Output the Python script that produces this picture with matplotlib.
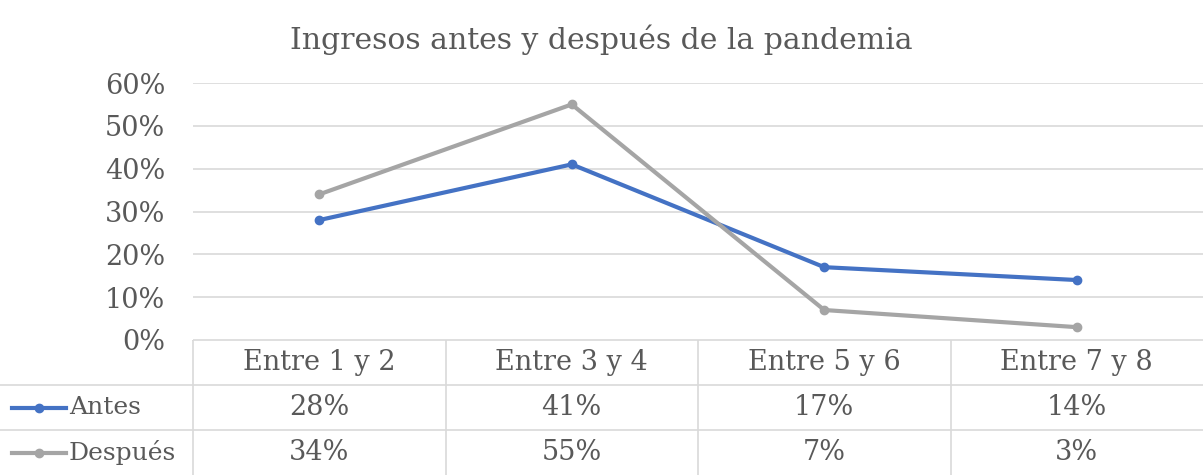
import numpy as np
import matplotlib.pyplot as plt
from matplotlib.ticker import PercentFormatter

categories = ["Entre 1 y 2", "Entre 3 y 4", "Entre 5 y 6", "Entre 7 y 8"]
antes = [28, 41, 17, 14]
despues = [34, 55, 7, 3]
series_names = ["Antes", "Después"]

plt.rcParams["font.family"] = ["DejaVu Serif", "Liberation Serif"]
txt = "#595959"
grid_c = "#D9D9D9"
colors = ["#4472C4", "#A5A5A5"]
fs = 19.5

W, H = 1203, 475
fig = plt.figure(figsize=(W / 100, H / 100), dpi=100)

# plot area
left_px, right_px, top_px, bot_px = 193, 1203, 83, 340
ax = fig.add_axes([left_px / W, 1 - bot_px / H, (right_px - left_px) / W, (bot_px - top_px) / H])
x = np.arange(len(categories))
for vals, c in zip([antes, despues], colors):
    ax.plot(x, vals, color=c, lw=3, marker="o", ms=6, zorder=3)
ax.set_xlim(-0.5, len(categories) - 0.5)
ax.set_ylim(0, 60)
ax.set_yticks(np.arange(0, 61, 10))
ax.yaxis.set_major_formatter(PercentFormatter(decimals=0))
ax.tick_params(axis="y", length=0, pad=20, labelsize=fs, labelcolor=txt)
ax.set_xticks([])
ax.grid(axis="y", color=grid_c, lw=1.2)
for s in ax.spines.values():
    s.set_visible(False)
fig.text(0.5, 1 - 40 / H, "Ingresos antes y después de la pandemia",
         ha="center", va="center", fontsize=21.5, color=txt)

# data table
unit = (right_px - left_px) / len(categories)
x0 = -0.5 - left_px / unit
ax_t = fig.add_axes([0, 0, 1, (H - bot_px) / H])
ax_t.set_xlim(x0, len(categories) - 0.5)
ax_t.set_ylim(3, 0)
ax_t.axis("off")
lc = dict(color=grid_c, lw=1.2)
ax_t.plot([-0.5, 3.5], [0, 0], **lc)
for yy in [1, 2]:
    ax_t.plot([x0, 3.5], [yy, yy], **lc)
for xx in np.arange(-0.5, 3.0, 1.0):
    ax_t.plot([xx, xx], [0, 3], **lc)
for i, c in enumerate(categories):
    ax_t.text(i, 0.5, c, ha="center", va="center", fontsize=fs, color=txt)
for r, (name, vals, col) in enumerate(zip(series_names, [antes, despues], colors), start=1):
    k0, k1 = x0 + 12 / unit, x0 + 66 / unit
    ax_t.plot([k0, k1], [r + 0.5, r + 0.5], color=col, lw=3)
    ax_t.plot([(k0 + k1) / 2], [r + 0.5], marker="o", ms=6, color=col)
    ax_t.text(x0 + 69 / unit, r + 0.5, name, ha="left", va="center", fontsize=18, color=txt)
    for i, v in enumerate(vals):
        ax_t.text(i, r + 0.5, f"{v}%", ha="center", va="center", fontsize=fs, color=txt)

fig.savefig("out.png", dpi=100)
